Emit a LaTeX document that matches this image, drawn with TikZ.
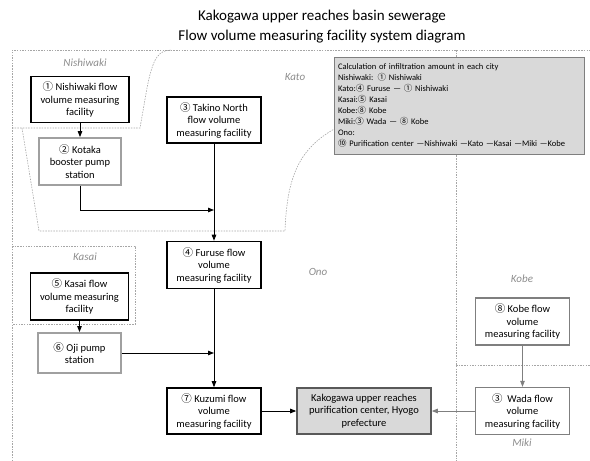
\documentclass[tikz,border=0pt]{standalone}
\usepackage{fontspec}
\setmainfont{Carlito}
\newfontfamily\cjk{Noto Sans CJK JP}
\usetikzlibrary{arrows.meta,positioning}
\definecolor{cInk}{HTML}{000000}
\definecolor{cPump}{HTML}{A0A0A0}
\definecolor{cMid}{HTML}{7F7F7F}
\definecolor{cDark}{HTML}{595959}
\definecolor{cNote}{HTML}{D9D9D9}
\definecolor{cDash}{HTML}{A6A6A6}
\definecolor{cCity}{HTML}{8C8C8C}
\tikzset{
  >={Triangle[length=6pt,width=4.5pt]},
  box/.style ={draw=cInk,line width=1.6pt,fill=white,align=center,inner sep=2pt,
               font=\fontsize{10.5}{12.5}\selectfont},
  mbox/.style={box,minimum width=94pt,minimum height=46pt},
  pbox/.style={box,draw=cPump,line width=1.8pt},
  kbox/.style={mbox,draw=cMid,line width=1.3pt},
  wbox/.style={box,draw=cDark,fill=cNote,line width=1.6pt},
  note/.style={draw=cMid,fill=cNote,line width=1pt,align=left,inner sep=4pt,
               font=\fontsize{8.5}{10.9}\selectfont},
  ar/.style  ={->,line width=0.9pt,cInk},
  gar/.style ={->,line width=0.9pt,cMid},
  bnd/.style ={draw=cDash,line width=0.6pt,dash pattern=on 1.5pt off 1.2pt},
  city/.style={font=\itshape\fontsize{11}{13}\selectfont,text=cCity},
}
\newcommand{\cno}[1]{{\cjk #1}}

\begin{document}
\begin{tikzpicture}[x=1pt,y=-1pt]
\useasboundingbox (0,0) rectangle (590,461);
\node[font=\fontsize{15}{20}\selectfont,align=center] (title) at (322,27)
 {Kakogawa upper reaches basin sewerage\\Flow volume measuring facility system diagram};
% city boundaries
\draw[bnd] (12,461) -- (12,50) -- (590,50);
\draw[bnd] (456,50) -- (456,461);
\draw[bnd] (456,365) -- (590,365);
\draw[bnd] (12,128) -- (140,128) -- (147,88) .. controls (153,58) and (158,50) .. (172,50);
\draw[bnd] (22,128) -- (39,231) -- (285,231) .. controls (287,175) and (300,148) .. (336,128);
\draw[bnd] (12,246) -- (135,246) -- (135,324) -- (12,324);
\node[city] (lnishi) at (85,63)  {Nishiwaki};
\node[city] (lkato)  at (295,77) {Kato};
\node[city] (lono)   at (318,272) {Ono};
\node[city] (lkasai) at (85,257) {Kasai};
\node[city] (lkobe)  at (522,279) {Kobe};
\node[city] (lmiki)  at (522,443) {Miki};
% calculation note
\node[note,minimum width=250pt,minimum height=97pt,text width=242pt] (calc) at (459,105.5)
 {Calculation of infiltration amount in each city\\
  Nishiwaki: \cno{①} Nishiwaki\\
  Kato:\cno{④} Furuse — \cno{①} Nishiwaki\\
  Kasai:\cno{⑤} Kasai\\
  Kobe:\cno{⑧} Kobe\\
  Miki:\cno{③} Wada — \cno{⑧} Kobe\\
  Ono:\\
  \cno{⑩} Purification center —Nishiwaki —Kato —Kasai —Miki —Kobe};
% facilities
\node[mbox,minimum width=98pt] (nishi) at (80,99.5) {\cno{①} Nishiwaki flow\\volume measuring\\facility};
\node[pbox,minimum width=82pt,minimum height=47pt] (kotaka) at (80,161.5) {\cno{②} Kotaka\\booster pump\\station};
\node[mbox] (takino) at (214,120) {\cno{③} Takino North\\flow volume\\measuring facility};
\node[mbox,minimum height=47pt] (furuse) at (214,265) {\cno{④} Furuse flow\\volume\\measuring facility};
\node[mbox,minimum width=98pt,minimum height=47pt] (kasai) at (79.5,296.5) {\cno{⑤} Kasai flow\\volume measuring\\facility};
\node[pbox,minimum width=83pt,minimum height=40pt] (oji) at (79.5,353) {\cno{⑥} Oji pump\\station};
\node[mbox] (kuzumi) at (214,411) {\cno{⑦} Kuzumi flow\\volume\\measuring facility};
\node[wbox,minimum width=134pt,minimum height=46pt] (plant) at (364,411) {Kakogawa upper reaches\\purification center, Hyogo\\prefecture};
\node[kbox,minimum height=47pt] (kobe) at (522.5,321.5) {\cno{⑧} Kobe flow\\volume\\measuring facility};
\node[kbox,minimum height=47pt] (wada) at (522.5,411) {\cno{③}\ \ Wada flow\\volume\\measuring facility};
% flows
\coordinate (j1) at (214,210);
\coordinate (j2) at (214,353);
\draw[ar] (nishi) -- (kotaka);
\draw[ar] (kotaka.south) |- (j1);
\draw[ar] (takino) -- (furuse);
\draw[ar] (kasai) -- (oji);
\draw[ar] (oji.east) -- (j2);
\draw[ar] (furuse) -- (kuzumi);
\draw[ar] (kuzumi) -- (plant);
\draw[gar] (kobe) -- (wada);
\draw[gar] (wada) -- (plant);
\end{tikzpicture}
\end{document}
